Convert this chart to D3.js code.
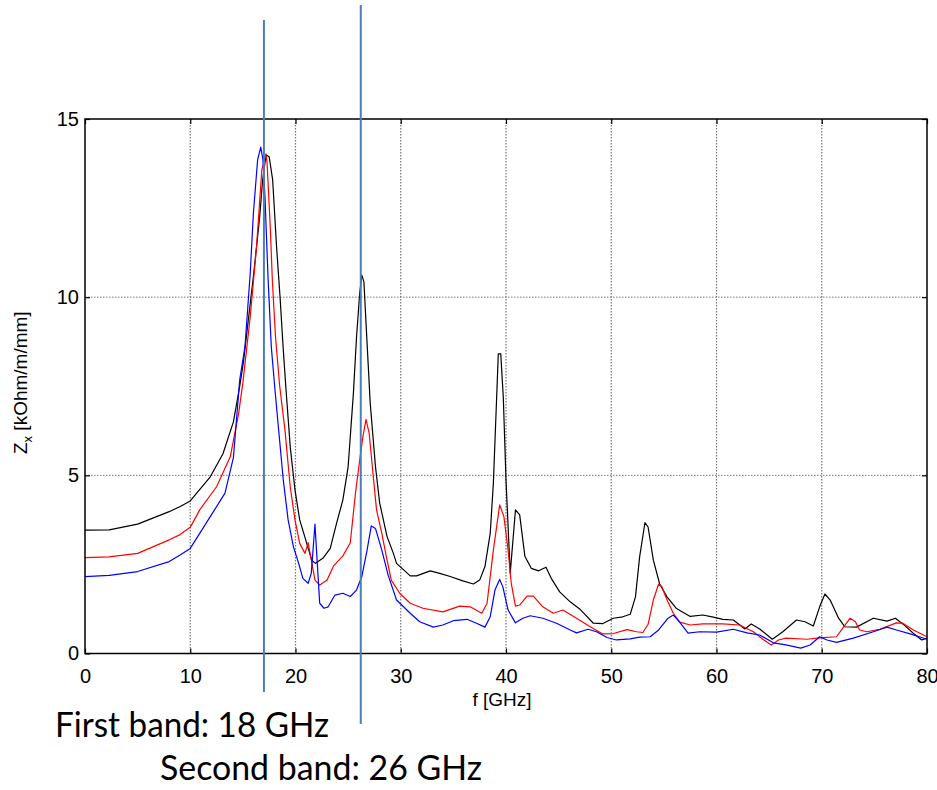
<!DOCTYPE html>
<html>
<head>
<meta charset="utf-8">
<script src="https://cdn.jsdelivr.net/npm/d3@7/dist/d3.min.js"></script>
<style>
  html, body { margin: 0; padding: 0; background: #fff; }
  svg { display: block; }
  .tick-label { font-family: "Liberation Sans", Arial, sans-serif; font-size: 20px; fill: #000; }
  .caption { font-family: Lato, "Open Sans", sans-serif; font-size: 34px; fill: #000; }
</style>
</head>
<body>
<div id="chart"></div>
<script>
// Impedance traces, [f in GHz, Zx in kOhm/m/mm]
const blackTrace = [
  [0,3.46],[2.3,3.47],[5,3.63],[8,3.98],[9,4.12],[10,4.28],[11.9,4.96],[13.1,5.6],[14.1,6.5],[14.7,7.5],
  [15.04,8.15],[16.0,10.58],[16.6,12.26],[16.88,13.29],[17.2,13.99],[17.5,13.94],[17.83,13.29],[18.2,11.42],
  [18.53,10.01],[18.84,8.52],[19.1,7.4],[19.5,5.8],[19.95,4.59],[20.4,3.75],[21.07,3.09],[21.54,2.62],
  [21.9,2.53],[22.6,2.67],[23.3,2.95],[23.9,3.65],[24.5,4.31],[25.0,5.24],[25.5,7.3],[25.8,8.89],[26.1,10.11],
  [26.3,10.62],[26.5,10.43],[26.8,8.71],[27.1,7.02],[27.6,5.24],[28.0,4.22],[28.7,3.28],[29.3,2.81],[29.6,2.53],
  [30.9,2.18],[31.5,2.18],[32.8,2.32],[33.7,2.25],[34.7,2.16],[35.9,2.04],[36.9,1.95],[37.5,2.06],[38.0,2.44],
  [38.5,3.37],[38.8,4.78],[39.27,8.41],[39.5,8.41],[39.74,7.21],[40.0,4.87],[40.4,2.25],[40.9,4.03],[41.3,3.89],
  [41.8,2.72],[42.4,2.39],[43.1,2.32],[43.8,2.42],[44.3,2.11],[45.1,1.73],[46.1,1.45],[47.0,1.25],[48.3,0.85],
  [49.2,0.84],[50.2,0.99],[51.1,1.03],[51.8,1.1],[52.3,1.59],[52.7,2.72],[53.2,3.67],[53.5,3.55],[54.0,2.62],
  [54.6,1.95],[55.3,1.59],[56.2,1.26],[57.5,1.04],[58.7,1.08],[59.7,1.02],[60.6,0.96],[61.6,0.94],[62.7,0.69],
  [63.3,0.83],[64.1,0.69],[65.3,0.40],[66.3,0.61],[67.6,0.94],[68.4,0.89],[69.2,0.77],[69.8,1.31],[70.3,1.67],
  [70.8,1.50],[71.6,0.99],[72.2,0.75],[73.3,0.74],[74.9,0.99],[76.2,0.91],[77.0,0.99],[77.7,0.83],[78.7,0.57],
  [79.5,0.38],[80,0.43]
];

const redTrace = [
  [0,2.69],[2.3,2.71],[5,2.81],[8,3.19],[9,3.33],[10,3.54],[10.9,4.03],[12.5,4.68],[13.8,5.52],[14.6,6.74],
  [15.0,7.6],[15.7,9.45],[16.3,11.42],[16.8,13.57],[17.2,14.02],[17.3,13.76],[17.6,11.98],[17.8,10.48],
  [18.1,8.89],[18.5,7.5],[19.0,6.27],[19.5,4.68],[19.95,3.75],[20.4,3.09],[20.9,2.81],[21.2,3.11],[21.5,2.62],
  [21.85,2.06],[22.3,1.92],[23.0,2.06],[23.6,2.45],[24.5,2.74],[25.2,3.1],[25.7,4.5],[26.1,5.43],[26.4,6.08],
  [26.7,6.57],[27.0,6.18],[27.3,5.24],[27.7,4.03],[28.2,3.37],[28.7,2.62],[29.1,2.06],[29.9,1.69],[30.9,1.41],
  [32.1,1.27],[34.0,1.17],[35.6,1.33],[36.6,1.31],[37.7,1.13],[38.2,1.41],[38.8,2.9],[39.4,4.17],[39.8,3.84],
  [40.2,2.9],[40.5,1.97],[40.9,1.33],[41.3,1.36],[42.0,1.61],[42.6,1.61],[43.5,1.31],[44.5,1.13],[45.4,1.22],
  [46.7,0.99],[48.0,0.75],[49.2,0.55],[50.2,0.56],[51.5,0.67],[52.4,0.61],[53.0,0.59],[53.5,0.82],[54.0,1.5],
  [54.5,1.95],[54.8,1.88],[55.3,1.5],[55.9,1.13],[56.5,0.88],[57.5,0.8],[58.7,0.83],[60.6,0.83],[62.2,0.80],
  [63.5,0.61],[64.4,0.40],[65.2,0.24],[65.9,0.38],[66.6,0.43],[68.6,0.40],[69.8,0.44],[71.4,0.47],[72.0,0.71],
  [72.7,0.99],[73.2,0.89],[73.6,0.66],[74.3,0.61],[75.5,0.68],[77.1,0.86],[77.7,0.85],[78.7,0.66],[80,0.47]
];

const blueTrace = [
  [0,2.16],[2.3,2.19],[5,2.30],[8,2.58],[9,2.76],[10,2.95],[10.9,3.37],[12.2,3.98],[13.3,4.50],[14.1,5.5],
  [14.7,7.68],[15.2,8.61],[15.7,10.68],[16.0,12.36],[16.4,13.85],[16.7,14.21],[16.9,13.87],[17.1,12.82],
  [17.4,10.48],[17.7,8.61],[18.05,7.4],[18.4,6.27],[18.84,4.87],[19.3,3.75],[19.8,3.0],[20.3,2.53],[20.7,2.11],
  [21.2,1.97],[21.5,2.25],[21.85,3.63],[22.07,2.53],[22.3,1.41],[22.7,1.27],[23.1,1.31],[23.75,1.64],[24.5,1.69],
  [25.2,1.6],[25.8,1.78],[26.3,2.16],[26.8,2.90],[27.2,3.58],[27.6,3.51],[28.2,2.90],[28.8,2.2],[29.6,1.5],
  [30.9,1.13],[31.8,0.89],[33.1,0.74],[34.0,0.80],[35.0,0.92],[36.3,0.96],[37.2,0.85],[38.0,0.74],[38.5,1.03],
  [38.95,1.78],[39.4,2.08],[39.7,1.87],[40.2,1.22],[40.9,0.86],[41.6,0.99],[42.3,1.06],[43.5,0.99],[44.8,0.85],
  [46.1,0.66],[46.7,0.58],[47.8,0.68],[48.6,0.61],[49.6,0.45],[50.5,0.38],[51.8,0.41],[52.7,0.46],[53.7,0.47],
  [54.5,0.66],[55.4,0.99],[55.9,1.08],[56.5,0.88],[57.3,0.57],[58.4,0.61],[60.0,0.6],[61.6,0.68],[62.9,0.58],
  [64.1,0.52],[65.4,0.30],[66.6,0.24],[68.0,0.15],[68.9,0.24],[69.8,0.47],[70.5,0.38],[71.4,0.31],[73.0,0.43],
  [74.9,0.61],[76.2,0.74],[77.1,0.66],[78.4,0.55],[80,0.40]
];

const xTicks = [0, 10, 20, 30, 40, 50, 60, 70, 80];
const yTicks = [0, 5, 10, 15];
const bandFreqs = [17.0, 26.2];   // GHz, where the annotation lines sit
const captions = ['First band: 18 GHz', 'Second band: 26 GHz'];

const W = 937, H = 790;
const margin = { top: 119, right: 10, bottom: 136.5, left: 85 };
const width = W - margin.left - margin.right;
const height = H - margin.top - margin.bottom;

const svg = d3.select('#chart').append('svg')
  .attr('width', W)
  .attr('height', H);

svg.append('rect').attr('width', W).attr('height', H).attr('fill', '#fff');

const g = svg.append('g').attr('transform', `translate(${margin.left},${margin.top})`);

const x = d3.scaleLinear().domain([0, 80]).range([0, width]);
const y = d3.scaleLinear().domain([0, 15]).range([height, 0]);

// grid (dotted, MATLAB style)
g.append('g').selectAll('line')
  .data(xTicks.slice(1, -1))
  .join('line')
  .attr('x1', d => x(d)).attr('x2', d => x(d))
  .attr('y1', 0).attr('y2', height)
  .attr('stroke', '#777').attr('stroke-width', 1.2)
  .attr('stroke-dasharray', '1.5,1.5');

g.append('g').selectAll('line')
  .data(yTicks.slice(1, -1))
  .join('line')
  .attr('x1', 0).attr('x2', width)
  .attr('y1', d => y(d)).attr('y2', d => y(d))
  .attr('stroke', '#777').attr('stroke-width', 1)
  .attr('stroke-dasharray', '1.5,1.5');

// axes with inward ticks on all four sides
const xAxis = g.append('g')
  .attr('transform', `translate(0,${height})`)
  .call(d3.axisBottom(x).tickValues(xTicks).tickSizeInner(-5).tickSizeOuter(0).tickPadding(15));
xAxis.select('.domain').remove();
xAxis.selectAll('text').attr('class', 'tick-label').attr('font-size', null).attr('font-family', null);

g.append('g')
  .call(d3.axisTop(x).tickValues(xTicks).tickSizeInner(-5).tickSizeOuter(0).tickFormat(''))
  .select('.domain').remove();

const yAxis = g.append('g')
  .call(d3.axisLeft(y).tickValues(yTicks).tickSizeInner(-5).tickSizeOuter(0).tickPadding(6));
yAxis.select('.domain').remove();
yAxis.selectAll('text').attr('class', 'tick-label').attr('font-size', null).attr('font-family', null);

g.append('g')
  .attr('transform', `translate(${width},0)`)
  .call(d3.axisRight(y).tickValues(yTicks).tickSizeInner(-5).tickSizeOuter(0).tickFormat(''))
  .select('.domain').remove();

g.selectAll('.tick line').attr('stroke', '#000').attr('stroke-width', 1.2);

// traces
const line = d3.line().x(d => x(d[0])).y(d => y(d[1]));
const traces = [
  { data: blackTrace, color: '#000000' },
  { data: redTrace, color: '#ff0000' },
  { data: blueTrace, color: '#0000ff' }
];
g.selectAll('.trace')
  .data(traces)
  .join('path')
  .attr('class', 'trace')
  .attr('d', d => line(d.data))
  .attr('fill', 'none')
  .attr('stroke', d => d.color)
  .attr('stroke-width', 1.2)
  .attr('stroke-linejoin', 'round');

// box
g.append('rect')
  .attr('width', width).attr('height', height)
  .attr('fill', 'none').attr('stroke', '#000').attr('stroke-width', 1.5);

// axis labels
g.append('text')
  .attr('class', 'tick-label')
  .attr('x', x(40) - 4)
  .attr('y', height + 52)
  .attr('text-anchor', 'middle')
  .style('font-size', '19px')
  .text('f [GHz]');

const yLabel = svg.append('text')
  .attr('class', 'tick-label')
  .attr('transform', `translate(27,${margin.top + y(7.6)}) rotate(-90)`)
  .attr('text-anchor', 'middle')
  .style('font-size', '19px');
yLabel.append('tspan').text('Z');
yLabel.append('tspan').attr('dy', 5).style('font-size', '13px').text('x');
yLabel.append('tspan').attr('dy', -5).text(' [kOhm/m/mm]');

// band marker lines (drawn over the plot, like the slide annotation)
const bandExtent = [[20, 692], [5, 724]];
svg.selectAll('.band')
  .data(bandFreqs)
  .join('line')
  .attr('class', 'band')
  .attr('x1', d => margin.left + x(d)).attr('x2', d => margin.left + x(d))
  .attr('y1', (d, i) => bandExtent[i][0]).attr('y2', (d, i) => bandExtent[i][1])
  .attr('stroke', '#4a7ebb').attr('stroke-width', 2);

// captions
const capPos = [[55, 737, 274], [160, 780, 322]];
svg.selectAll('.caption')
  .data(captions)
  .join('text')
  .attr('class', 'caption')
  .attr('x', (d, i) => capPos[i][0])
  .attr('y', (d, i) => capPos[i][1])
  .attr('textLength', (d, i) => capPos[i][2])
  .attr('lengthAdjust', 'spacingAndGlyphs')
  .text(d => d);
</script>
</body>
</html>
